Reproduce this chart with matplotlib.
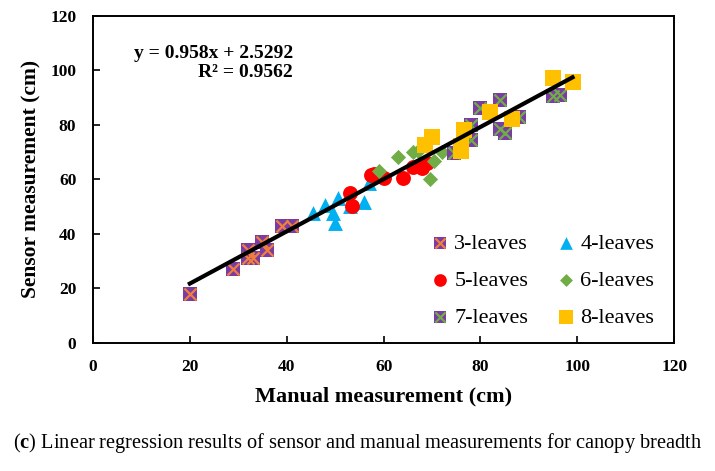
import matplotlib
matplotlib.use('Agg')
import matplotlib.pyplot as plt
import numpy as np

plt.rcParams['font.family'] = ['Liberation Serif', 'DejaVu Serif']
plt.rcParams['mathtext.fontset'] = 'custom'
plt.rcParams['mathtext.rm'] = 'Liberation Serif'
plt.rcParams['mathtext.bf'] = 'Liberation Serif:bold'

# data (manual, sensor) in cm
x3 = [20, 29, 32, 32, 33, 35, 36, 39, 41]
y3 = [18, 27, 34, 31, 31, 37, 34, 43, 43]

x4 = [45.5, 48, 49.5, 50, 50.5, 53, 56, 57]
y4 = [47.5, 50.5, 47.5, 44, 53, 50, 51.5, 58.5]

x5 = [53, 53.5, 57.5, 58, 60, 64, 66, 67, 68, 69]
y5 = [55, 50, 61.5, 62, 60.5, 60.5, 64.5, 65, 64, 66]

x6 = [59, 63, 66, 67, 69.5, 70.5, 72, 69]
y6 = [63, 68, 70, 70.5, 60, 66.5, 70, 74]

x7 = [74.5, 78, 78, 80, 84, 84, 85, 88, 95, 96.5]
y7 = [69.5, 74.5, 80, 86, 89, 78.5, 77, 83, 90.5, 91]

x8 = [68.5, 70, 76, 76, 76.5, 82, 86.5, 95, 99]
y8 = [72.5, 75.5, 70.5, 72, 78, 84.5, 82, 97, 95.5]

labels = ['3-leaves', '4-leaves', '5-leaves', '6-leaves', '7-leaves', '8-leaves']
slope, intercept, r2 = 0.958, 2.5292, 0.9562

purple = '#7A3BA3'
orange = '#F07F3C'
green = '#70AD47'
blue = '#00B0F0'
red = '#FF0000'
gold = '#FFC000'

fig = plt.figure(figsize=(7.15, 4.71), dpi=100)
ax = fig.add_axes([0.130, 0.2724, 0.813, 0.6943])

sq3 = ax.scatter(x3, y3, marker='s', s=100, color=purple, linewidths=0)
xx3 = ax.scatter(x3, y3, marker='x', s=75, color=orange, linewidths=1.6)
h4 = ax.scatter(x4, y4, marker='^', s=115, color=blue, linewidths=0)
h5 = ax.scatter(x5, y5, marker='o', s=115, color=red, linewidths=0)
h6 = ax.scatter(x6, y6, marker='D', s=60, color=green, linewidths=0)
sq7 = ax.scatter(x7, y7, marker='s', s=100, color=purple, linewidths=0)
xx7 = ax.scatter(x7, y7, marker='x', s=75, color=green, linewidths=1.6)
h8 = ax.scatter(x8, y8, marker='s', s=135, color=gold, linewidths=0)

all_x = np.array(x3 + x4 + x5 + x6 + x7 + x8)
fx = np.array([all_x.min(), all_x.max()])
ax.plot(fx, slope * fx + intercept, color='black', linewidth=3, zorder=5)

ax.text(41.3, 102.5, 'y = %.3fx + %.4f\nR² = %.4f' % (slope, intercept, r2),
        ha='right', va='center', multialignment='right',
        fontsize=14, fontweight='bold', linespacing=1.15)

ax.set_xlim(0, 120)
ax.set_ylim(0, 120)
ax.set_xticks(range(0, 121, 20))
ax.set_yticks(range(0, 121, 20))
ax.tick_params(direction='in', length=5, width=1.2, labelsize=12.5, pad=12)
for lbl in ax.get_xticklabels() + ax.get_yticklabels():
    lbl.set_fontweight('bold')
for sp in ax.spines.values():
    sp.set_linewidth(1.4)

ax.set_xlabel('Manual measurement (cm)', fontsize=16, fontweight='bold', labelpad=8)
ax.set_ylabel('Sensor measurement (cm)', fontsize=15.5, fontweight='bold', labelpad=6)

# legend fills column-wise, so order the handles to read row by row
handles = [(sq3, xx3), h4, h5, h6, (sq7, xx7), h8]
order = [0, 2, 4, 1, 3, 5]
leg = ax.legend([handles[i] for i in order], [labels[i] for i in order],
                ncol=2, frameon=False, loc='lower right', bbox_to_anchor=(1.0, -0.015),
                fontsize=16, handletextpad=0.15, columnspacing=1.2, labelspacing=0.74,
                handlelength=1.0, scatterpoints=1, markerscale=0.85)

fig.text(0.5, 0.06, r'($\mathbf{c}$) Linear regression results of sensor and manual measurements for canopy breadth',
         ha='center', va='center', fontsize=14.7)

fig.savefig('out.png', dpi=100)
